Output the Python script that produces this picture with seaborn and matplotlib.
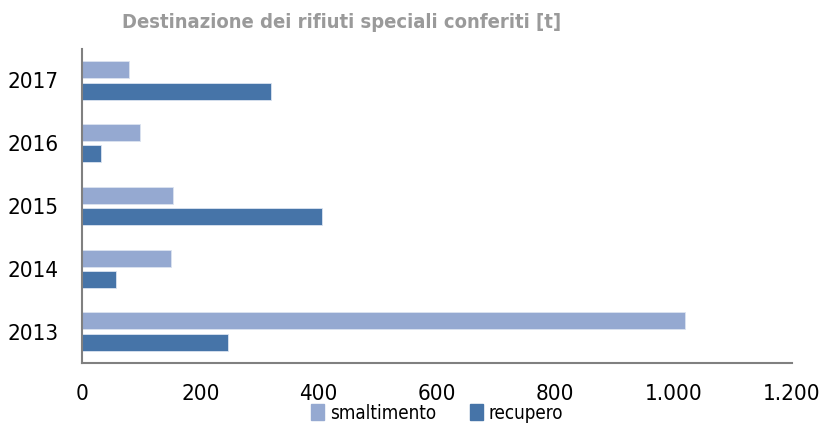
import pandas as pd
import seaborn as sns
import matplotlib.pyplot as plt
from matplotlib.ticker import FuncFormatter

anni = ["2017", "2016", "2015", "2014", "2013"]
smaltimento = [79, 98, 154, 150, 1019]
recupero = [319, 32, 405, 58, 246]

df = pd.DataFrame({
    "anno": anni * 2,
    "t": smaltimento + recupero,
    "destinazione": ["smaltimento"] * 5 + ["recupero"] * 5,
})

sns.set_style("white")
plt.rcParams["font.family"] = ["DejaVu Sans"]
plt.rcParams["font.stretch"] = "condensed"

fig = plt.figure(figsize=(8.23, 4.23), dpi=100)
ax = fig.add_axes([82 / 823, 1 - 363 / 423, 710 / 823, 314 / 423])

sns.barplot(data=df, x="t", y="anno", hue="destinazione", order=anni,
            palette={"smaltimento": "#95a9d1", "recupero": "#4674a8"},
            saturation=1, width=0.68, gap=0.2, edgecolor="#dbe3f0", linewidth=0.6,
            orient="h", ax=ax, legend=False)

ax.set_xlim(0, 1200)
ax.set_ylim(4.5, -0.5)
ax.set_xticks(range(0, 1201, 200))
ax.xaxis.set_major_formatter(FuncFormatter(lambda v, p: f"{int(v):,}".replace(",", ".")))
ax.set_xlabel("")
ax.set_ylabel("")
sns.despine(ax=ax)
for s in ["left", "bottom"]:
    ax.spines[s].set_color("#808080")
    ax.spines[s].set_linewidth(1.5)
ax.tick_params(axis="x", direction="out", length=6, width=1, color="#808080",
               labelsize=16, labelcolor="black", pad=9)
ax.tick_params(axis="y", length=0, labelsize=16, labelcolor="black", pad=17)

fig.text(122 / 823, 1 - 22 / 423, "Destinazione dei rifiuti speciali conferiti [t]",
         fontsize=14.5, fontweight="bold", color="#9a9a9a", va="center", ha="left")

h = [plt.Rectangle((0, 0), 1, 1, color="#95a9d1"),
     plt.Rectangle((0, 0), 1, 1, color="#4674a8")]
fig.legend(h, ["smaltimento", "recupero"], loc="center", ncol=2,
           bbox_to_anchor=(437 / 823, 1 - 413 / 423), frameon=False,
           fontsize=13.5, labelcolor="black", handlelength=0.7, handleheight=0.9,
           handletextpad=0.3, columnspacing=1.8, borderpad=0)

fig.savefig("out.png", dpi=100)
